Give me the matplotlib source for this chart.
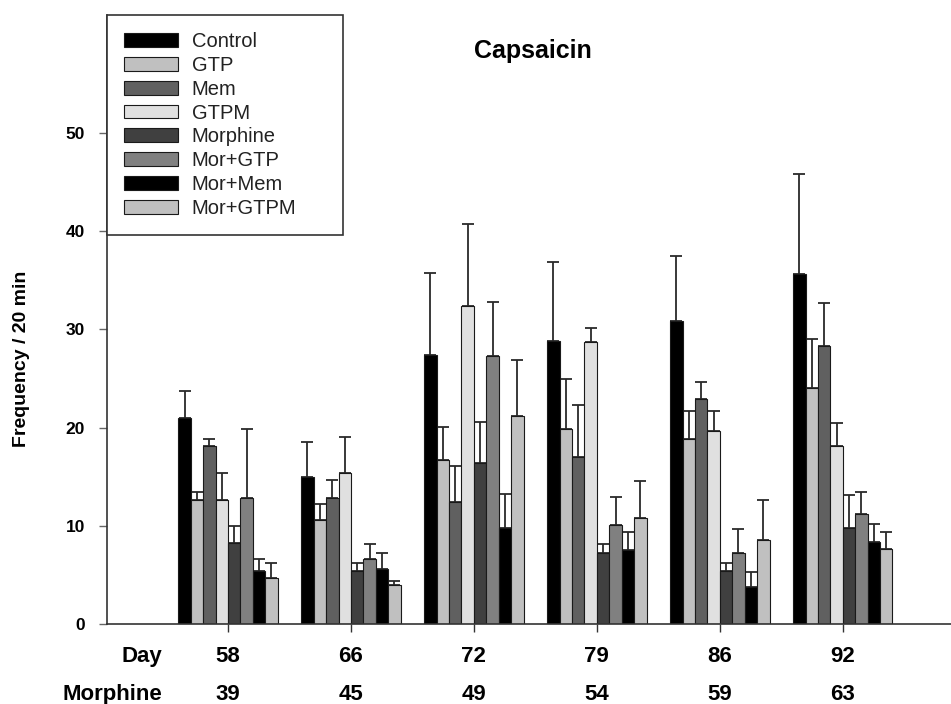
import numpy as np
import matplotlib.pyplot as plt
import matplotlib.transforms as mtransforms

plt.rcParams['font.family'] = ['Liberation Sans', 'DejaVu Sans']

days = ['58', '66', '72', '79', '86', '92']
morphine_days = ['39', '45', '49', '54', '59', '63']
groups = ['Control', 'GTP', 'Mem', 'GTPM', 'Morphine', 'Mor+GTP', 'Mor+Mem', 'Mor+GTPM']
colors = ['#000000', '#c0c0c0', '#606060', '#e0e0e0', '#404040', '#808080', '#000000', '#c0c0c0']

# mean values, one list per treatment (one value per day)
control = [21.0, 15.0, 27.4, 28.8, 30.8, 35.6]
gtp = [12.6, 10.6, 16.7, 19.9, 18.8, 24.0]
mem = [18.1, 12.8, 12.4, 17.0, 22.9, 28.3]
gtpm = [12.6, 15.4, 32.4, 28.7, 19.6, 18.1]
morph = [8.2, 5.4, 16.4, 7.2, 5.4, 9.8]
mor_gtp = [12.8, 6.6, 27.3, 10.1, 7.2, 11.2]
mor_mem = [5.4, 5.6, 9.8, 7.5, 3.8, 8.3]
mor_gtpm = [4.7, 4.0, 21.2, 10.8, 8.6, 7.6]

# upper error (SEM)
control_err = [2.7, 3.5, 8.3, 8.1, 6.7, 10.2]
gtp_err = [0.8, 1.6, 3.4, 5.0, 2.9, 5.0]
mem_err = [0.7, 1.9, 3.7, 5.3, 1.7, 4.4]
gtpm_err = [2.8, 3.6, 8.3, 1.4, 2.1, 2.4]
morph_err = [1.8, 0.8, 4.2, 0.9, 0.8, 3.3]
mor_gtp_err = [7.1, 1.5, 5.5, 2.8, 2.5, 2.2]
mor_mem_err = [1.2, 1.6, 3.4, 1.9, 1.5, 1.9]
mor_gtpm_err = [1.5, 0.4, 5.7, 3.8, 4.0, 1.8]

values = [control, gtp, mem, gtpm, morph, mor_gtp, mor_mem, mor_gtpm]
errors = [control_err, gtp_err, mem_err, gtpm_err, morph_err, mor_gtp_err, mor_mem_err, mor_gtpm_err]

W, H = 951, 704
fig = plt.figure(figsize=(W / 100, H / 100), dpi=100)
ax = fig.add_axes([107 / W, 80 / H, (W - 107) / W, (624 - 15) / H])

x = np.arange(1, len(days) + 1)
width = 0.101
n = len(groups)
for i in range(n):
    pos = x + (i - (n - 1) / 2) * width
    ax.bar(pos, values[i], width, color=colors[i], edgecolor='#1a1a1a', linewidth=0.8,
           label=groups[i], zorder=2)
    yerr = [np.zeros(len(days)), errors[i]]
    ax.errorbar(pos, values[i], yerr=yerr, fmt='none', ecolor='#2a2a2a', elinewidth=1.3,
                capsize=4.5, capthick=1.3, zorder=1)

ax.set_xlim(0.016, 6.88)
ax.set_ylim(0, 62)
ax.set_yticks([0, 10, 20, 30, 40, 50])
ax.set_yticklabels(['0', '10', '20', '30', '40', '50'], fontsize=12.5, fontweight='bold')
ax.set_xticks(x)
ax.set_xticklabels([])
ax.tick_params(axis='x', direction='out', length=6, width=1, color='#333333')
ax.tick_params(axis='y', direction='out', length=5.8, width=1, color='#666666', pad=10)
for s in ['top', 'right']:
    ax.spines[s].set_visible(False)
for s in ['left', 'bottom']:
    ax.spines[s].set_color('#333333')
    ax.spines[s].set_linewidth(1.2)

ax.set_ylabel('Frequency / 20 min', fontsize=14, fontweight='bold')
ax.yaxis.set_label_coords(-0.091, 0.435)

# two rows of x labels
trans = mtransforms.blended_transform_factory(ax.transData, fig.transFigure)
for xi, d, m in zip(x, days, morphine_days):
    ax.text(xi, 1 - 662 / H, d, transform=trans, ha='center', va='baseline',
            fontsize=16, fontweight='bold')
    ax.text(xi, 1 - 700 / H, m, transform=trans, ha='center', va='baseline',
            fontsize=16, fontweight='bold')
fig.text(162 / W, 1 - 662 / H, 'Day', ha='right', va='baseline', fontsize=16, fontweight='bold')
fig.text(162 / W, 1 - 700 / H, 'Morphine', ha='right', va='baseline', fontsize=16, fontweight='bold')

fig.text(533 / W, 1 - 58 / H, 'Capsaicin', ha='center', va='baseline', fontsize=18, fontweight='bold')

leg = fig.legend(loc='upper left', bbox_to_anchor=(107 / W, 1 - 15 / H - 0.01, (343 - 107) / W, 0.01),
                 mode='expand', borderaxespad=0,
                 fontsize=14.5, handlelength=2.7, handleheight=0.68, handletextpad=0.65,
                 labelspacing=0.24, borderpad=0.85, fancybox=False, framealpha=1)
leg.get_frame().set_edgecolor('#333333')
leg.get_frame().set_linewidth(1.2)
for t in leg.get_texts():
    t.set_color('#222222')

fig.savefig('out.png', dpi=100)
